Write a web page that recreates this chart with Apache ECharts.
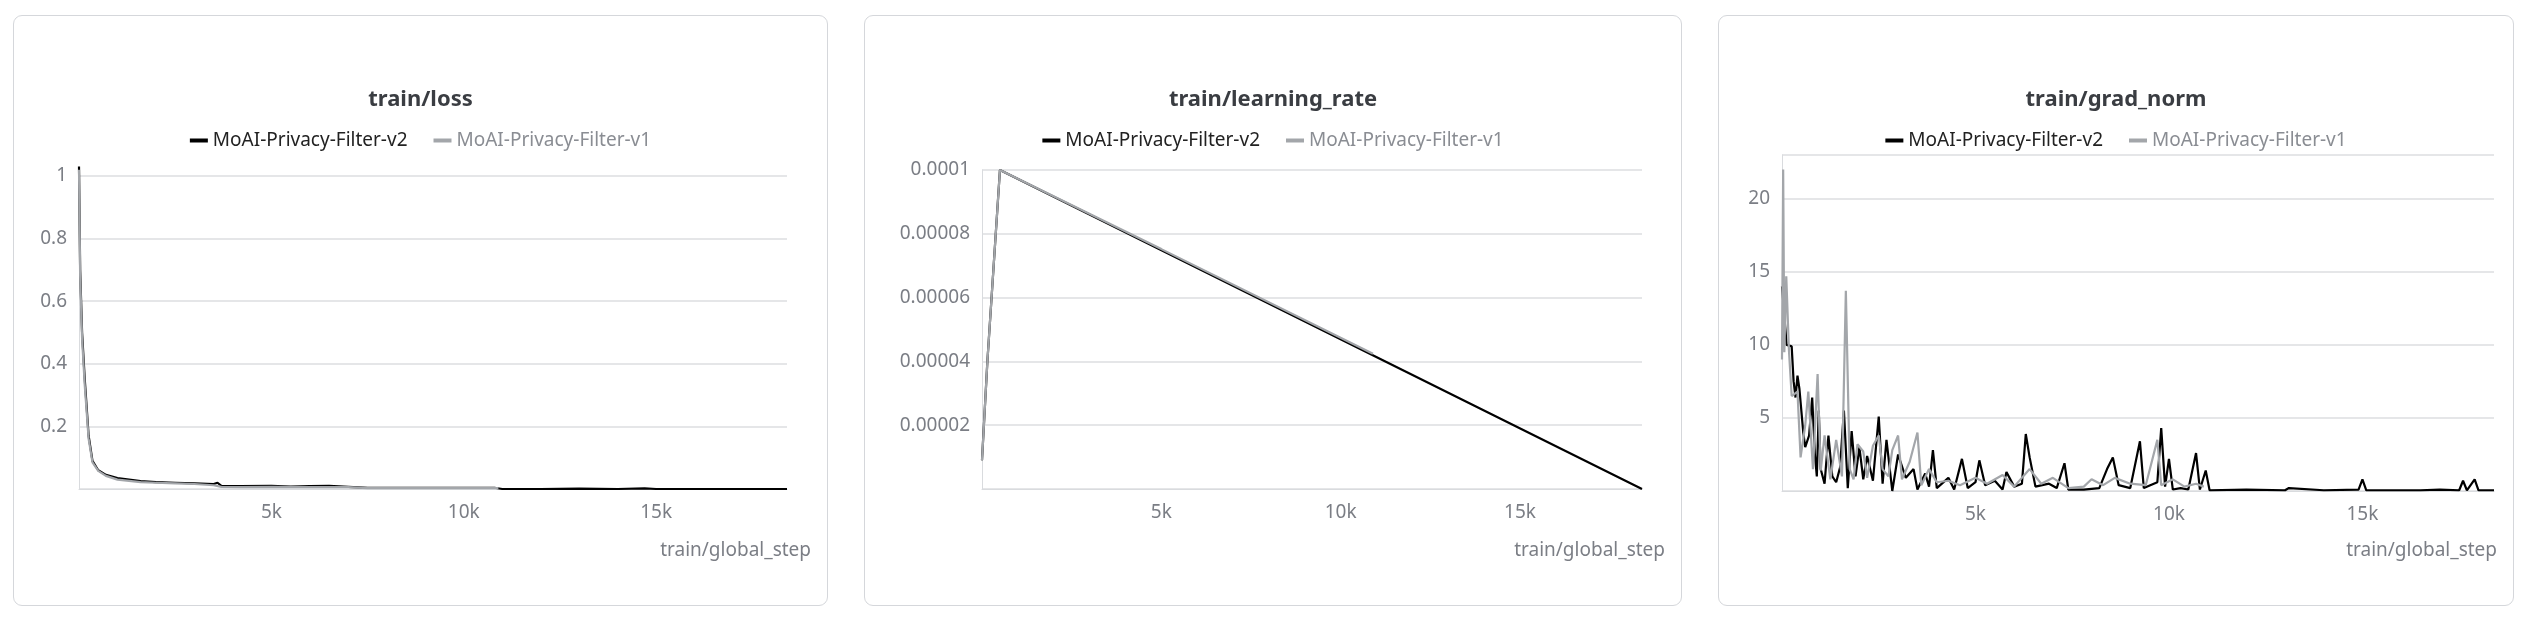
<!DOCTYPE html>
<html><head><meta charset="utf-8">
<script src="https://cdn.jsdelivr.net/npm/echarts@6/dist/echarts.min.js"></script>
<style>
body{margin:0;background:#fff;width:2546px;height:622px;position:relative;overflow:hidden}
.p{position:absolute;top:15px;height:591px;border:1.5px solid #d5d7db;border-radius:9px;box-sizing:border-box}
</style></head><body>
<div id="c1" class="p" style="left:13px;width:815px"></div>
<div id="c2" class="p" style="left:864px;width:818px"></div>
<div id="c3" class="p" style="left:1718px;width:796px"></div>
<script>
const seriesNames = ['MoAI-Privacy-Filter-v2', 'MoAI-Privacy-Filter-v1'];
const titles = ['train/loss', 'train/learning_rate', 'train/grad_norm'];
const xName = 'train/global_step';
const xTicks = [5000, 10000, 15000];

const lossV2 = [[0,1.03],[30,0.7],[80,0.5],[150,0.35],[250,0.17],[350,0.09],[500,0.06],[700,0.045],[1000,0.035],[1300,0.03],[1600,0.025],[2000,0.022],[2500,0.02],[3000,0.018],[3500,0.016],[3600,0.02],[3700,0.01],[4200,0.009],[5000,0.01],[5500,0.008],[6000,0.009],[6500,0.01],[7000,0.007],[7500,0.004],[8000,0.004],[9000,0.004],[10000,0.004],[10800,0.004],[11000,0.0],[12000,0.0],[13000,0.001],[14000,0.0],[14700,0.002],[15000,0.0],[16000,0.0],[17000,0.0],[18400,0.0]];
const lossV1 = [[0,1.02],[30,0.68],[80,0.48],[150,0.33],[250,0.16],[350,0.085],[500,0.058],[700,0.042],[1000,0.03],[1300,0.026],[1600,0.022],[2000,0.02],[2500,0.018],[3000,0.016],[3500,0.012],[3700,0.007],[4200,0.006],[5000,0.007],[6000,0.006],[7000,0.006],[7500,0.003],[8500,0.003],[9500,0.003],[10900,0.003]];

const lrV2 = [[0,0.000009],[150,0.00004],[500,0.0001],[18400,0.0]];
const lrV1 = [[0,0.000009],[150,0.00004],[500,0.0001],[5000,0.0000752],[10900,0.0000424]];

const gradV2 = [[0,14],[120,10],[250,9.9],[300,7.5],[350,6.4],[400,7.9],[450,7.0],[550,4],[600,3],[700,3.8],[780,6.4],[850,2.5],[900,1.0],[950,5.5],[1000,1.5],[1100,0.5],[1200,3.8],[1300,1.0],[1400,0.6],[1500,1.6],[1600,5.5],[1700,0.2],[1800,4.1],[1900,1.0],[2000,3.0],[2100,0.8],[2200,2.4],[2350,0.7],[2500,5.1],[2600,0.5],[2700,3.5],[2850,0.0],[3000,2.5],[3200,0.9],[3400,1.5],[3500,0.1],[3700,1.2],[3800,0.3],[3900,2.8],[4000,0.2],[4300,0.9],[4450,0.1],[4650,2.2],[4800,0.2],[5000,0.6],[5100,2.1],[5250,0.4],[5500,0.7],[5700,0.1],[5800,1.3],[6000,0.3],[6200,0.5],[6300,3.9],[6400,2.3],[6550,0.3],[6900,0.5],[7100,0.2],[7300,1.9],[7400,0.1],[7800,0.1],[8200,0.2],[8400,1.5],[8550,2.3],[8700,0.4],[9000,0.2],[9250,3.4],[9350,0.2],[9700,0.6],[9800,4.3],[9900,0.3],[10000,2.2],[10100,0.1],[10300,0.2],[10500,0.1],[10700,2.6],[10800,0.1],[10950,1.4],[11050,0.05],[12000,0.1],[13000,0.05],[13100,0.2],[14000,0.05],[14900,0.1],[15000,0.8],[15100,0.05],[16500,0.05],[17000,0.1],[17500,0.05],[17600,0.7],[17700,0.05],[17900,0.8],[18000,0.05],[18400,0.05]];
const gradV1 = [[0,9],[30,22],[60,9.5],[110,14.7],[180,9.6],[250,6.5],[400,6.8],[480,2.3],[600,4.5],[680,6.8],[800,1.5],[920,8.0],[1000,1.4],[1100,3.8],[1250,0.8],[1400,3.5],[1550,1.0],[1650,13.7],[1750,1.5],[1850,0.8],[1950,3.2],[2100,2.7],[2200,0.9],[2350,3.1],[2500,3.8],[2600,1.5],[2750,1.0],[2850,2.8],[3000,3.8],[3100,0.8],[3300,2.0],[3500,4.0],[3600,0.4],[3800,1.5],[4000,0.6],[4300,0.7],[4600,0.4],[5000,0.9],[5300,0.5],[5700,1.1],[6000,0.3],[6400,1.5],[6700,0.5],[7000,0.9],[7400,0.2],[7800,0.3],[8000,0.8],[8300,0.4],[8600,0.9],[9000,0.5],[9400,0.4],[9700,3.5],[9800,0.4],[10100,0.8],[10400,0.3],[10700,0.5],[10900,0.3]];

const FONT = 'Noto Sans';
function make(id, title, d2, d1, grid, yMax, yInt, yFmt) {
  const c = echarts.init(document.getElementById(id));
  c.setOption({
    animation:false,
    title:{text:title,left:'center',top:68,textStyle:{fontFamily:FONT,fontSize:22,fontWeight:'bold',color:'#3a3d42'}},
    legend:{top:110,left:'center',itemWidth:18,itemHeight:4,itemGap:26,icon:'rect',
      textStyle:{fontFamily:FONT,fontSize:19,color:'#222'},
      data:[{name:seriesNames[0],textStyle:{color:'#222'}},{name:seriesNames[1],textStyle:{color:'#8a8d93'}}]},
    grid:grid,
    xAxis:{type:'value',min:0,max:18400,interval:5000,
      axisLine:{show:true,lineStyle:{color:'#d9dbde'}},axisTick:{show:false},splitLine:{show:false},
      axisLabel:{fontFamily:FONT,fontSize:19,color:'#7b7e85',margin:14,showMaxLabel:false,
        formatter:v=>xTicks.includes(v)?(v/1000)+'k':''}},
    yAxis:{type:'value',min:0,max:yMax,interval:yInt,
      axisLine:{show:true,lineStyle:{color:'#d9dbde'}},axisTick:{show:false},
      splitLine:{lineStyle:{color:'#dcdee1',width:1.5}},
      axisLabel:{fontFamily:FONT,fontSize:19,color:'#7b7e85',margin:12,showMaxLabel:true,formatter:yFmt}},
    graphic:[{type:'text',right:16,top:525,style:{text:xName,fontFamily:FONT,fontSize:19,fill:'#7b7e85'}}],
    series:[
      {name:seriesNames[0],type:'line',data:d2,showSymbol:false,clip:false,z:2,lineStyle:{color:'#000',width:2.2},itemStyle:{color:'#000'}},
      {name:seriesNames[1],type:'line',data:d1,showSymbol:false,clip:false,z:3,lineStyle:{color:'#a3a6aa',width:2.2},itemStyle:{color:'#a3a6aa'}}
    ]
  });
}
make('c1', titles[0], lossV2, lossV1, {left:65,right:40,top:160,bottom:116}, 1, 0.2,
  v=>v===0?'':String(+v.toFixed(1)));
make('c2', titles[1], lrV2, lrV1, {left:117,right:39,top:154,bottom:116}, 0.0001, 0.00002,
  v=>v===0?'':v.toFixed(5).replace(/0+$/,''));
make('c3', titles[2], gradV2, gradV1, {left:63,right:19,top:139,bottom:114}, 23, 5,
  v=>(v===0||v===23)?'':String(v));
</script></body></html>
